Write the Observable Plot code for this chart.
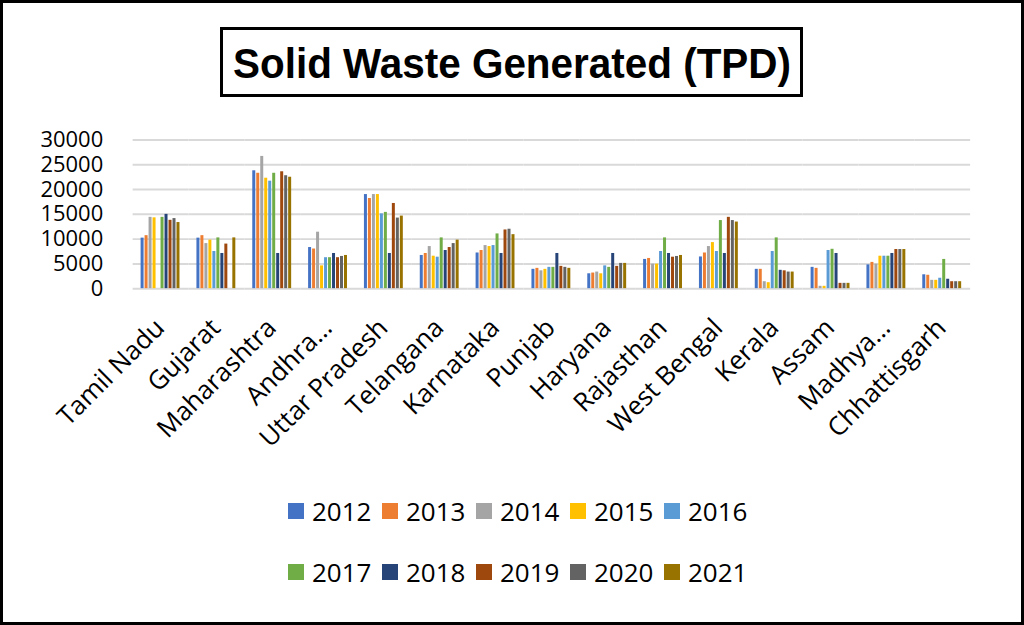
<!DOCTYPE html>
<html><head><meta charset="utf-8">
<script src="https://cdn.jsdelivr.net/npm/d3@7"></script>
<script src="https://cdn.jsdelivr.net/npm/@observablehq/plot@0.6"></script>
<style>
html,body{margin:0;padding:0;background:#fff;}
#frame{position:relative;width:1024px;height:625px;box-sizing:border-box;border:3px solid #000;overflow:hidden;background:#fff;font-family:"Open Sans",sans-serif;}
#title{position:absolute;left:217px;top:24px;width:583px;height:70px;box-sizing:border-box;border:3px solid #000;margin:0;overflow:hidden;}
#title span{position:absolute;left:50%;top:50%;white-space:nowrap;font-family:"Liberation Sans",Arial,sans-serif;font-weight:bold;font-size:42px;line-height:1;color:#000;transform-origin:center center;}
#chart{position:absolute;left:-3px;top:-3px;}
.lg{position:absolute;display:flex;align-items:center;font-size:26px;color:#000;line-height:1;}
.lg span.sw{display:inline-block;width:16px;height:16px;margin-right:8px;}
</style></head>
<body>
<div id="frame">
  <h1 id="title"><span id="titleText">Solid Waste Generated (TPD)</span></h1>
  <div id="chart"></div>
  <div id="legend"></div>
</div>
<script>
const states = ["Tamil Nadu","Gujarat","Maharashtra","Andhra Pradesh","Uttar Pradesh","Telangana","Karnataka","Punjab","Haryana","Rajasthan","West Bengal","Kerala","Assam","Madhya Pradesh","Chhattisgarh"];
const stateLabels = ["Tamil Nadu","Gujarat","Maharashtra","Andhra…","Uttar Pradesh","Telangana","Karnataka","Punjab","Haryana","Rajasthan","West Bengal","Kerala","Assam","Madhya…","Chhattisgarh"];
const years = ["2012","2013","2014","2015","2016","2017","2018","2019","2020","2021"];
const colors = ["#4472C4","#ED7D31","#A5A5A5","#FFC000","#5B9BD5","#70AD47","#264478","#9E480E","#636363","#997300"];
const yTicks = [0,5000,10000,15000,20000,25000,30000];

const v2012 = [10200,10200,23800,8300,19000,6700,7200,3900,3000,5900,6400,3900,4300,4800,2800];
const v2013 = [10700,10700,23300,8000,18200,7100,7700,4100,3150,6100,7200,3900,4100,5300,2700];
const v2014 = [14400,9100,26700,11400,19000,8500,8700,3600,3350,4950,8500,1400,470,4950,1680];
const v2015 = [14300,9800,22300,4600,19000,6550,8500,3900,3000,4950,9300,1200,470,6550,1680];
const v2016 = [null,7500,21700,6250,15100,6350,8700,4300,4600,7500,7500,7500,7700,6550,2100];
const v2017 = [14400,10250,23300,6250,15400,10250,11050,4300,4300,10250,13750,10250,7950,6550,5900];
const v2018 = [15000,7100,7100,7100,7100,7700,7100,7100,7100,7100,7100,3700,7100,7100,1900];
const v2019 = [13800,9000,23600,6250,17200,8300,11850,4500,4500,6350,14400,3600,1070,7900,1400];
const v2020 = [14150,null,22800,6500,14250,9100,12000,4300,5100,6500,13750,3350,1070,7900,1400];
const v2021 = [13350,10250,22500,6700,14650,9800,10900,4100,5100,6700,13450,3350,1070,7900,1400];

const series = [v2012,v2013,v2014,v2015,v2016,v2017,v2018,v2019,v2020,v2021];
const data = [];
years.forEach((yr,i)=>series[i].forEach((v,j)=>{ if(v!=null) data.push({state:states[j], year:yr, value:v}); }));
const labelOf = new Map(states.map((s,i)=>[s,stateLabels[i]]));

const chart = Plot.plot({
  width:1024, height:470,
  marginLeft:130, marginRight:49, marginTop:140, marginBottom:181,
  style:{fontFamily:"'Open Sans', sans-serif", color:"#000", background:"transparent", overflow:"visible"},
  fx:{domain:states, padding:0, label:null, axis:null},
  x:{domain:years, axis:null, paddingInner:0.17, paddingOuter:0.93},
  y:{domain:[0,30000], axis:null},
  color:{domain:years, range:colors},
  marks:[
    Plot.gridY(yTicks, {stroke:"#d9d9d9", strokeWidth:2, strokeOpacity:1}),
    Plot.barY(data, {fx:"state", x:"year", y:"value", fill:"year"}),
    Plot.axisY(yTicks, {anchor:"left", tickSize:0, tickPadding:30, fontSize:22, label:null, tickFormat:d=>String(d), fill:"#000"}),
    Plot.axisFx({anchor:"bottom", tickRotate:-45, tickSize:0, tickPadding:12, fontSize:26, label:null, tickFormat:d=>labelOf.get(d), fill:"#000", dx:-1, dy:23})
  ]
});
document.getElementById("chart").appendChild(chart);

// fit title text to the reference width
const tt = document.getElementById("titleText");
const w = tt.getBoundingClientRect().width;
const s = 558 / w;
tt.style.transform = `translate(-50%,-46%) scaleX(${s})`;

const legend = document.getElementById("legend");
years.forEach((yr,i)=>{
  const row = Math.floor(i/5), col = i%5;
  const d = document.createElement("div");
  d.className = "lg";
  d.style.left = (288 - 3 + col*94) + "px";
  d.style.top = (498 - 3 + row*61) + "px";
  const sw = document.createElement("span");
  sw.className = "sw"; sw.style.background = colors[i];
  d.appendChild(sw);
  d.appendChild(document.createTextNode(yr));
  legend.appendChild(d);
});
</script>
</body></html>
